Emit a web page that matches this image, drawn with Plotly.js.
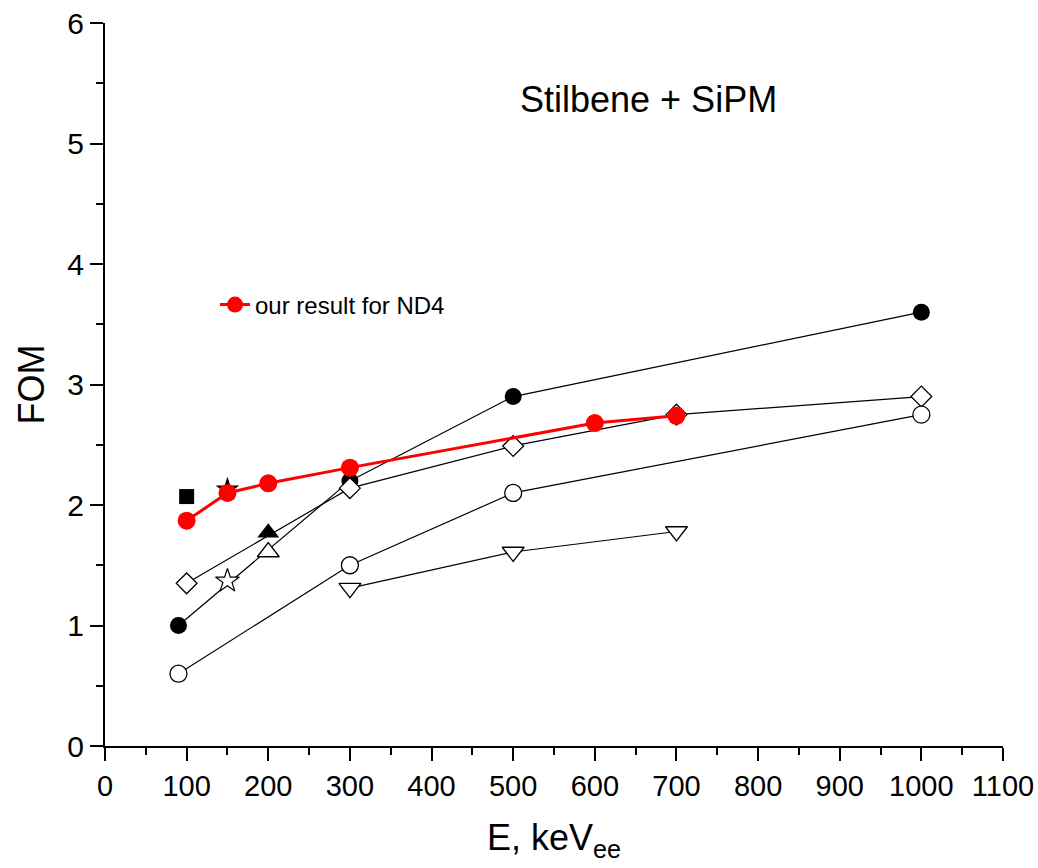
<!DOCTYPE html>
<html><head><meta charset="utf-8">
<script src="https://cdn.plot.ly/plotly-3.0.1.min.js"></script>
<style>body{margin:0;background:#fff}#chart{width:1038px;height:868px}</style>
</head><body><div id="chart"></div>
<script>
// Data
const blackCircX = [90, 300, 500, 1000];
const blackCircY = [1.0, 2.2, 2.9, 3.6];
const openDiamX = [100, 300, 500, 700, 1000];
const openDiamY = [1.35, 2.14, 2.49, 2.75, 2.9];
const openCircX = [90, 300, 500, 1000];
const openCircY = [0.6, 1.5, 2.1, 2.75];
const downTriX = [300, 500, 700];
const downTriY = [1.31, 1.61, 1.78];
const redX = [100, 150, 200, 300, 600, 700];
const redY = [1.87, 2.1, 2.18, 2.31, 2.68, 2.74];
const squareX = [100]; const squareY = [2.07];
const filledStarX = [150]; const filledStarY = [2.13];
const filledTriX = [200]; const filledTriY = [1.77];
const openTriX = [200]; const openTriY = [1.61];
const openStarX = [150]; const openStarY = [1.37];
const legendName = "our result for ND4";
const chartTitle = "Stilbene + SiPM";

const font = "Arial, 'Liberation Sans', sans-serif";
const blackLine = {color: '#000', width: 1.2};
const traces = [
  {x: blackCircX, y: blackCircY, mode: 'lines+markers', line: blackLine,
   marker: {symbol: 'circle', size: 17, color: '#000'}, showlegend: false},
  {x: openDiamX, y: openDiamY, mode: 'lines+markers', line: blackLine,
   marker: {symbol: 'diamond', size: 16, color: '#fff', line: {color: '#000', width: 1.3}}, showlegend: false},
  {x: openCircX, y: openCircY, mode: 'lines+markers', line: blackLine,
   marker: {symbol: 'circle', size: 17, color: '#fff', line: {color: '#000', width: 1.3}}, showlegend: false},
  {x: downTriX, y: downTriY, mode: 'lines+markers', line: blackLine,
   marker: {symbol: 'triangle-down', size: 19, color: '#fff', line: {color: '#000', width: 1.3}}, showlegend: false},
  {x: squareX, y: squareY, mode: 'markers',
   marker: {symbol: 'square', size: 15, color: '#000'}, showlegend: false},
  {x: filledStarX, y: filledStarY, mode: 'markers',
   marker: {symbol: 'star', size: 18, color: '#000'}, showlegend: false},
  {x: filledTriX, y: filledTriY, mode: 'markers',
   marker: {symbol: 'triangle-up', size: 19, color: '#000'}, showlegend: false},
  {x: openTriX, y: openTriY, mode: 'markers',
   marker: {symbol: 'triangle-up', size: 19, color: '#fff', line: {color: '#000', width: 1.3}}, showlegend: false},
  {x: openStarX, y: openStarY, mode: 'markers',
   marker: {symbol: 'star', size: 18, color: '#fff', line: {color: '#000', width: 1.2}}, showlegend: false},
  {x: redX, y: redY, mode: 'lines+markers', name: legendName,
   line: {color: '#ff0000', width: 3},
   marker: {symbol: 'circle', size: 18, color: '#ff0000'}, showlegend: true}
];

const layout = {
  width: 1038, height: 868,
  margin: {l: 105, r: 35, t: 23, b: 122},
  paper_bgcolor: '#fff', plot_bgcolor: '#fff',
  font: {family: font, color: '#000'},
  xaxis: {
    range: [0, 1100], tickmode: 'linear', tick0: 0, dtick: 100,
    showgrid: false, zeroline: false, showline: true, linecolor: '#000', linewidth: 2,
    ticks: 'outside', ticklen: 13, tickwidth: 2, tickcolor: '#000',
    minor: {dtick: 50, ticks: 'outside', ticklen: 7, tickwidth: 2, tickcolor: '#000'},
    tickfont: {size: 29},
    title: {text: 'E, keV<sub>ee</sub>', font: {size: 36}, standoff: 24}
  },
  yaxis: {
    range: [0, 6], tickmode: 'linear', tick0: 0, dtick: 1,
    showgrid: false, zeroline: false, showline: true, linecolor: '#000', linewidth: 2,
    ticks: 'outside', ticklen: 13, tickwidth: 2, tickcolor: '#000',
    minor: {dtick: 0.5, ticks: 'outside', ticklen: 7, tickwidth: 2, tickcolor: '#000'},
    tickfont: {size: 30},
    title: {text: 'FOM', font: {size: 36}, standoff: 12}
  },
  legend: {x: 0.1225, y: 0.61, xanchor: 'left', yanchor: 'middle',
           font: {size: 24}, bgcolor: 'rgba(0,0,0,0)', borderwidth: 0},
  annotations: [{text: chartTitle, xref: 'paper', yref: 'paper', x: 0.605, y: 0.8935,
                 xanchor: 'center', yanchor: 'middle', showarrow: false,
                 font: {size: 36}}]
};
Plotly.newPlot('chart', traces, layout, {displayModeBar: false});
</script></body></html>
